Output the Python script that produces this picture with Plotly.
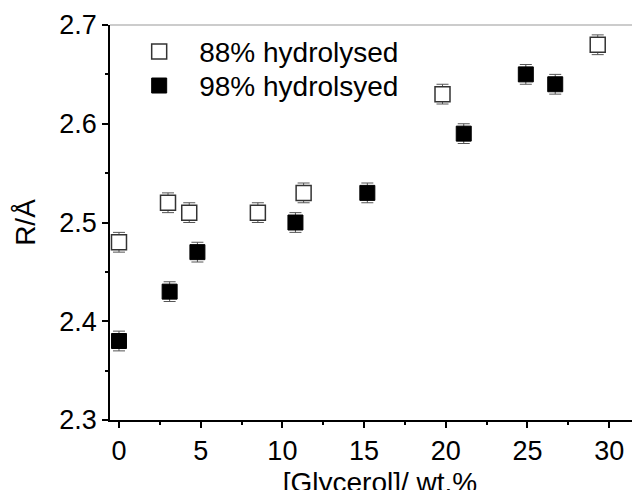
import plotly.graph_objects as go

# 88% hydrolysed
x88 = [0.0, 3.0, 4.3, 8.5, 11.3, 19.8, 29.3]
y88 = [2.48, 2.52, 2.51, 2.51, 2.53, 2.63, 2.68]
e88 = [0.01, 0.01, 0.01, 0.01, 0.01, 0.01, 0.01]

# 98% hydrolysed
x98 = [0.0, 3.1, 4.8, 10.8, 15.2, 21.1, 24.9, 26.7]
y98 = [2.38, 2.43, 2.47, 2.50, 2.53, 2.59, 2.65, 2.64]
e98 = [0.01, 0.01, 0.01, 0.01, 0.01, 0.01, 0.01, 0.01]

font_family = "Liberation Sans, Arial, sans-serif"
TICK_FS = 27
TXT_FS = 28

fig = go.Figure()
fig.add_trace(go.Scatter(
    x=x88, y=y88, mode="markers", name="88% hydrolysed", legend="legend",
    marker=dict(symbol="square", size=15, color="white",
                line=dict(color="#333333", width=1.5)),
    error_y=dict(type="data", array=e88, visible=True, color="#555555",
                 thickness=1, width=6),
))
fig.add_trace(go.Scatter(
    x=x98, y=y98, mode="markers", name="98% hydrolsyed", legend="legend2",
    marker=dict(symbol="square", size=15, color="black",
                line=dict(color="black", width=1)),
    error_y=dict(type="data", array=e98, visible=True, color="#555555",
                 thickness=1, width=6),
))

fig.add_shape(type="line", xref="paper", yref="paper", x0=0, x1=1.0, y0=1, y1=1,
              line=dict(color="#bbbbbb", width=1.5))

leg_common = dict(x=0.017, xanchor="left", yanchor="middle",
                  bgcolor="rgba(0,0,0,0)", font=dict(size=TXT_FS),
                  itemwidth=70)

fig.update_layout(
    width=650, height=490,
    margin=dict(l=102, r=8, t=17, b=78, autoexpand=False),
    paper_bgcolor="white", plot_bgcolor="white",
    font=dict(family=font_family, size=TICK_FS, color="black"),
    showlegend=True,
    legend=dict(y=0.932, **leg_common),
    legend2=dict(y=0.846, **leg_common),
    xaxis=dict(
        range=[-0.55, 32.5], showgrid=False, zeroline=False, automargin=False,
        showline=True, linecolor="black", linewidth=1.5,
        ticks="outside", ticklen=6, tickwidth=1.5, tickcolor="black",
        tickvals=[0, 5, 10, 15, 20, 25, 30],
        minor=dict(tickvals=[2.5, 7.5, 12.5, 17.5, 22.5, 27.5], ticks="outside",
                   ticklen=3, tickwidth=1.5, tickcolor="black"),
        title=dict(text="[Glycerol]/ wt.%", standoff=8, font=dict(size=TXT_FS)),
        tickfont=dict(size=TICK_FS),
    ),
    yaxis=dict(
        range=[2.3, 2.7], showgrid=False, zeroline=False, automargin=False,
        showline=True, linecolor="black", linewidth=1.5,
        ticks="outside", ticklen=6, tickwidth=1.5, tickcolor="black",
        tickvals=[2.3, 2.4, 2.5, 2.6, 2.7], tickformat=".1f",
        minor=dict(tickvals=[2.35, 2.45, 2.55, 2.65], ticks="outside",
                   ticklen=3, tickwidth=1.5, tickcolor="black"),
        title=dict(text="R/Å", standoff=16, font=dict(size=TXT_FS)),
        tickfont=dict(size=TICK_FS),
    ),
)

fig.write_html("out.html")
